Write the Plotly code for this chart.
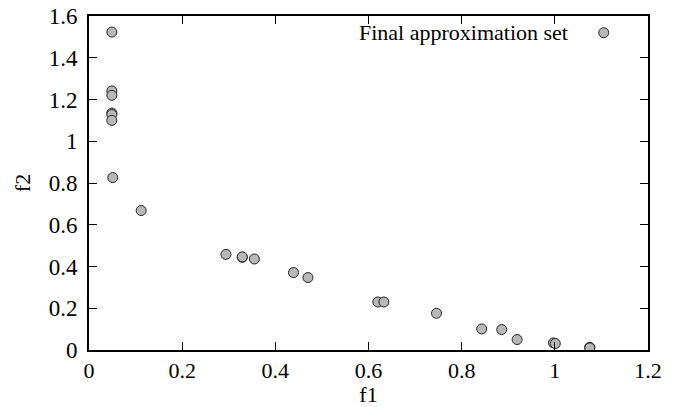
import plotly.graph_objects as go

f1 = [0.049, 0.049, 0.049, 0.049, 0.049, 0.049, 0.051, 0.112, 0.294, 0.329, 0.329, 0.355,
      0.439, 0.470, 0.620, 0.633, 0.746, 0.843, 0.886, 0.919, 0.997, 1.001, 1.075, 1.075]
f2 = [1.523, 1.241, 1.220, 1.135, 1.128, 1.100, 0.826, 0.668, 0.458, 0.444, 0.446, 0.436,
      0.371, 0.347, 0.230, 0.230, 0.176, 0.101, 0.098, 0.050, 0.034, 0.031, 0.013, 0.010]

series_name = "Final approximation set"
x_ticks = [0, 0.2, 0.4, 0.6, 0.8, 1, 1.2]
y_ticks = [0, 0.2, 0.4, 0.6, 0.8, 1, 1.2, 1.4, 1.6]

tick_font = dict(family="Liberation Serif", size=23, color="black")
xtick_font = dict(family="Liberation Serif", size=22, color="black")
title_font = dict(family="Liberation Serif", size=22, color="black")
legend_font = dict(family="Liberation Serif", size=22, color="black")

fig = go.Figure()
fig.add_trace(go.Scatter(
    x=f1, y=f2, mode="markers", name="",
    marker=dict(size=10, color="#b8b8b8", line=dict(color="#222222", width=1)),
    showlegend=True,
))

axis_common = dict(
    showline=True, linecolor="black", linewidth=2, mirror="allticks",
    ticks="inside", ticklen=8, tickwidth=1, tickcolor="black",
    showgrid=False, zeroline=False, automargin=False,
)

fig.update_xaxes(range=[0, 1.2], tickvals=x_ticks, ticktext=[str(v) for v in x_ticks], tickfont=xtick_font,
                 title=dict(text="f1", font=title_font, standoff=3), ticklabelstandoff=0, **axis_common)
fig.update_yaxes(range=[0, 1.6], tickvals=y_ticks, ticktext=[str(v) for v in y_ticks], tickfont=tick_font,
                 title=dict(text="f2", font=title_font, standoff=12), ticklabelstandoff=5, **axis_common)

fig.add_annotation(text=series_name, xref="paper", yref="paper", x=0.86, y=0.95,
                   xanchor="right", yanchor="middle", showarrow=False, font=legend_font)

fig.update_layout(
    width=679, height=407,
    margin=dict(l=89, r=31, t=16, b=57, autoexpand=False),
    paper_bgcolor="white", plot_bgcolor="white",
    legend=dict(x=0.885, y=0.95, xanchor="left", yanchor="middle",
                bgcolor="rgba(0,0,0,0)", borderwidth=0, itemwidth=30),
)

fig.write_html("out.html")
